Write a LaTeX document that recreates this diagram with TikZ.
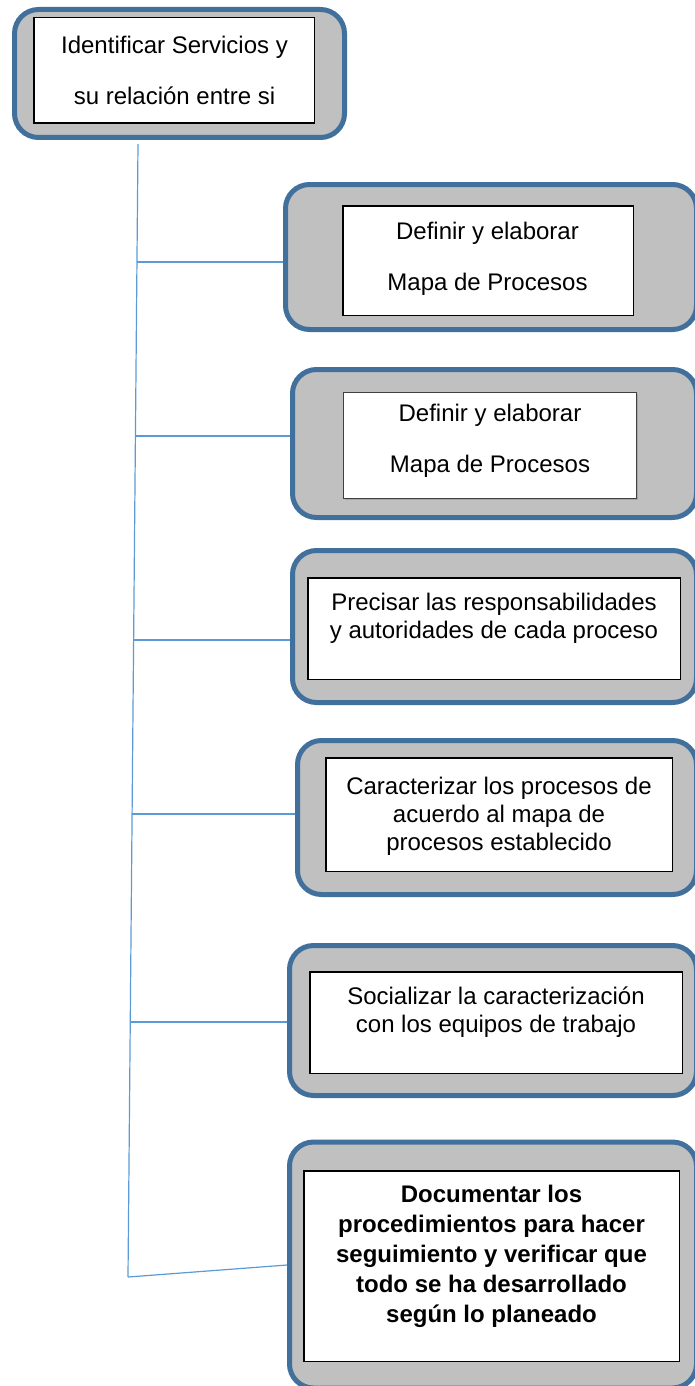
\documentclass[tikz,border=0pt]{standalone}
\usepackage{fontspec}
\setmainfont{Liberation Sans}
\usetikzlibrary{shadows}
\definecolor{frameblue}{RGB}{65,112,156}
\definecolor{framegray}{RGB}{192,192,192}
\definecolor{linkblue}{RGB}{91,155,213}
\tikzstyle{frame} = [rectangle, rounded corners=24pt, draw=frameblue, fill=framegray, line width=5pt]
\tikzstyle{rec} = [rectangle, draw=black, fill=white, line width=1.5pt]
\tikzstyle{txt} = [align=center, inner sep=0pt, font=\fontsize{24}{28}\selectfont]
\tikzstyle{widetxt} = [align=center, inner sep=0pt, font=\fontsize{24}{51}\selectfont]

\begin{document}
\begin{tikzpicture}[x=1pt,y=-1pt]
  \useasboundingbox (0,0) rectangle (695,1386);
  \clip (0,0) rectangle (695,1386);

  % trunk and forks
  \coordinate (TrunkTop) at (138,144);
  \coordinate (TrunkEnd) at (128,1277);
  \coordinate (Fork1) at (137,262);
  \coordinate (Fork2) at (135.4,436);
  \coordinate (Fork3) at (133.6,640);
  \coordinate (Fork4) at (132.1,814);
  \coordinate (Fork5) at (130.3,1022);

  % outer frames
  \node (Ident) [frame, minimum width=330pt, minimum height=128pt] at (179.5,73.5) {};
  \node (Mapa) [frame, minimum width=411pt, minimum height=145pt] at (491,257) {};
  \node (MapaDos) [frame, minimum width=404pt, minimum height=148pt] at (494.5,443.5) {};
  \node (Precisar) [frame, minimum width=404pt, minimum height=152pt] at (494.5,626.5) {};
  \node (Caracterizar) [frame, minimum width=399pt, minimum height=154pt] at (497,817.5) {};
  \node (Socializar) [frame, minimum width=407pt, minimum height=150pt] at (493,1020.5) {};
  \node (Documentar) [frame, minimum width=407pt, minimum height=246pt] at (493,1265) {};

  \path[every edge/.style={draw=linkblue, line width=1.2pt}]
    (TrunkTop) edge (TrunkEnd)
    (Fork1) edge (Fork1 -| Mapa.west)
    (Fork2) edge (Fork2 -| MapaDos.west)
    (Fork3) edge (Fork3 -| Precisar.west)
    (Fork4) edge (Fork4 -| Caracterizar.west)
    (Fork5) edge (Fork5 -| Socializar.west)
    (TrunkEnd) edge (Documentar.west);

  % inner boxes
  \node (IdentBox) [rec, minimum width=280.5pt, minimum height=105.5pt] at (174,70.5) {};
  \node (MapaBox) [rec, minimum width=290.5pt, minimum height=109.5pt] at (488,260.5) {};
  \node (MapaDosBox) [rec, draw=black!75, line width=1pt, minimum width=293pt, minimum height=106pt,
    drop shadow={shadow xshift=1.5pt, shadow yshift=-1.5pt, fill=black!45}] at (490,445.5) {};
  \node (PrecisarBox) [rec, minimum width=372.5pt, minimum height=101.5pt] at (494,628.5) {};
  \node (CaracterizarBox) [rec, minimum width=346.5pt, minimum height=113.5pt] at (499,814.5) {};
  \node (SocializarBox) [rec, minimum width=372.5pt, minimum height=101.5pt] at (496,1022.5) {};
  \node (DocumentarBox) [rec, minimum width=375.5pt, minimum height=190.5pt] at (491.5,1266) {};

  % texts
  \node (IdentText) [widetxt] at (174.5,70.5) {Identificar Servicios y\\su relación entre si};
  \node (MapaText) [widetxt] at (487.5,258.5) {Definir y elaborar\\Mapa de Procesos};
  \node (MapaDosText) [widetxt] at (490,441) {Definir y elaborar\\Mapa de Procesos};
  \node (PrecisarText) [txt] at (494,618) {Precisar las responsabilidades\\y autoridades de cada proceso};
  \node (CaracterizarText) [txt] at (499,816) {Caracterizar los procesos de\\acuerdo al mapa de\\procesos establecido};
  \node (SocializarText) [txt] at (496,1012.5) {Socializar la caracterización\\con los equipos de trabajo};
  \node (DocumentarText) [txt, font=\fontsize{24}{30}\selectfont\bfseries] at (491.5,1256)
    {Documentar los\\procedimientos para hacer\\seguimiento y verificar que\\todo se ha desarrollado\\según lo planeado};
\end{tikzpicture}
\end{document}
